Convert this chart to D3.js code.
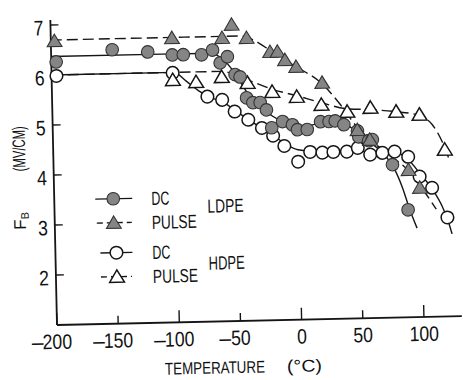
<!DOCTYPE html>
<html>
<head>
<meta charset="utf-8">
<script src="https://cdn.jsdelivr.net/npm/d3@7"></script>
<style>
  html, body { margin: 0; padding: 0; background: #fff; }
  svg { display: block; }
  text { font-family: "Liberation Sans", Arial, sans-serif; fill: #111; }
</style>
</head>
<body>
<svg id="chart" width="463" height="380"></svg>
<script>
// Breakdown strength F_B of LDPE / HDPE under DC and pulse voltage vs temperature

const xTicks = [-200, -150, -100, -50, 0, 50, 100];
const yTicks = [2, 3, 4, 5, 6, 7];

// LDPE, DC (measured points)
const ldpeDcTemp  = [-196, -150, -121, -101, -92, -77, -68, -62, -56, -50, -46, -41, -36, -30, -25, -21, -12, -4, 0, 8, 19, 26, 31, 38, 49, 50, 58, 61, 77, 89];
const ldpeDcField = [6.26, 6.48, 6.42, 6.35, 6.35, 6.34, 6.43, 6.17, 6.29, 5.93, 5.88, 5.46, 5.36, 5.36, 5.21, 4.85, 4.97, 4.9, 4.8, 4.8, 4.95, 4.95, 4.96, 4.88, 4.75, 4.63, 4.55, 4.57, 4.06, 3.15];
// LDPE, DC (drawn trend curve)
const ldpeDcCurveTemp  = [-200, -100, -70, -60, -50, -40, -30, -20, -10, 0, 10, 20, 30, 40, 50, 60, 70, 78, 85, 90, 96];
const ldpeDcCurveField = [6.37, 6.37, 6.36, 6.25, 5.95, 5.55, 5.3, 5.08, 4.95, 4.88, 4.88, 4.93, 4.95, 4.88, 4.7, 4.5, 4.28, 4.0, 3.58, 3.18, 2.78];

// LDPE, pulse
const ldpePulseTemp  = [-197, -101, -60, -52, -40, -21, -15, -9, 0, 21, 49, 59, 90, 99];
const ldpePulseField = [6.68, 6.69, 6.67, 6.93, 6.66, 6.37, 6.37, 6.2, 6.06, 5.73, 4.77, 4.57, 3.95, 3.59];
const ldpePulseCurveTemp  = [-200, -45, -30, -20, -10, 0, 20, 35, 49, 60, 75, 90, 100, 112];
const ldpePulseCurveField = [6.7, 6.7, 6.55, 6.38, 6.22, 6.06, 5.73, 5.3, 4.82, 4.55, 4.25, 3.93, 3.6, 3.15];

// HDPE, DC
const hdpeDcTemp  = [-196, -101, -73, -61, -51, -40, -29, -20, -11, 0, 10, 20, 29, 40, 49, 59, 69, 79, 90, 99, 109, 121];
const hdpeDcField = [5.98, 5.99, 5.5, 5.43, 5.19, 5.02, 4.85, 4.69, 4.48, 4.16, 4.35, 4.33, 4.34, 4.34, 4.41, 4.27, 4.3, 4.32, 4.21, 3.81, 3.58, 2.98];
const hdpeDcCurveTemp  = [-200, -100, -90, -80, -70, -60, -50, -40, -30, -20, -10, 0, 20, 40, 60, 80, 90, 100, 110, 117, 121, 124.5];
const hdpeDcCurveField = [6.0, 6.0, 5.82, 5.62, 5.48, 5.38, 5.2, 5.03, 4.86, 4.7, 4.52, 4.4, 4.35, 4.35, 4.33, 4.3, 4.15, 3.85, 3.52, 3.2, 2.95, 2.65];

// HDPE, pulse
const hdpePulseTemp  = [-101, -82, -61, -40, -20, 0, 20, 41, 60, 81, 100, 120];
const hdpePulseField = [5.85, 5.8, 5.89, 5.76, 5.57, 5.46, 5.29, 5.14, 5.21, 5.12, 5.05, 4.34];
const hdpePulseCurveTemp  = [-200, -60, -50, -40, -20, 0, 20, 40, 60, 80, 100, 110, 118, 124];
const hdpePulseCurveField = [6.0, 6.0, 5.92, 5.82, 5.62, 5.48, 5.33, 5.2, 5.17, 5.12, 5.03, 4.85, 4.5, 4.1];

const zip = (a, b) => a.map((v, i) => [v, b[i]]);

const svg = d3.select("#chart");
// whole figure sits slightly tilted on the page
const g = svg.append("g").attr("transform", "rotate(-1.25, 57, 325)");

const x = d3.scaleLinear().domain([-200, 100]).range([57, 424]);
const y = d3.scaleLinear().domain([1, 7]).range([325, 25]);

const INK = "#151515";
const GRAY = "#858585";

// squeeze a text element horizontally to a narrower lettering style
function condense(sel, k) {
  sel.each(function () {
    const w = this.getComputedTextLength();
    this.setAttribute("textLength", (w * k).toFixed(1));
    this.setAttribute("lengthAdjust", "spacingAndGlyphs");
  });
}

// ---- axes ----
g.append("line")
  .attr("x1", x(-200)).attr("x2", x(131))
  .attr("y1", y(1)).attr("y2", y(1))
  .attr("stroke", INK).attr("stroke-width", 1.8);
g.append("line")
  .attr("x1", x(-200)).attr("x2", x(-200))
  .attr("y1", y(1)).attr("y2", y(7.1))
  .attr("stroke", INK).attr("stroke-width", 1.8);

// x ticks point up into the plot; hundreds are longer
g.selectAll(".xt").data(xTicks).join("line")
  .attr("x1", d => x(d)).attr("x2", d => x(d))
  .attr("y1", y(1)).attr("y2", d => y(1) - (d % 100 === 0 ? 12 : 8))
  .attr("stroke", INK).attr("stroke-width", 1.4);

// y ticks point right into the plot
g.selectAll(".yt").data(yTicks).join("line")
  .attr("x1", x(-200)).attr("x2", x(-200) + 8)
  .attr("y1", d => y(d)).attr("y2", d => y(d))
  .attr("stroke", INK).attr("stroke-width", 1.4);

// x tick labels: digits centred on the tick, minus sign hanging to the left
xTicks.forEach(d => {
  const t = g.append("text")
    .attr("x", x(d)).attr("y", 349)
    .attr("text-anchor", "middle")
    .attr("font-size", 21)
    .text(Math.abs(d));
  condense(t, 0.84);
  if (d < 0) {
    const w = t.node().getComputedTextLength() * 0.84;
    g.append("text")
      .attr("x", x(d) - w / 2 - 1.5).attr("y", 349)
      .attr("text-anchor", "end")
      .attr("font-size", 21)
      .text("\u2013");
  }
});

// y tick labels
yTicks.forEach(d => {
  const t = g.append("text")
    .attr("x", 50).attr("y", y(d) + 10)
    .attr("text-anchor", "end")
    .attr("font-size", 21)
    .text(d);
  condense(t, 0.84);
});

// axis titles
g.append("text").attr("x", 164).attr("y", 377).attr("font-size", 17)
  .attr("textLength", 100).attr("lengthAdjust", "spacingAndGlyphs")
  .text("TEMPERATURE");
g.append("text").attr("x", 286).attr("y", 377).attr("font-size", 17)
  .attr("textLength", 35).attr("lengthAdjust", "spacingAndGlyphs")
  .text("(\u00B0C)");

g.append("text")
  .attr("transform", "translate(29,148) rotate(-90)")
  .attr("text-anchor", "middle").attr("font-size", 18)
  .attr("textLength", 45).attr("lengthAdjust", "spacingAndGlyphs")
  .text("(MV/CM)");

const yl2 = g.append("text")
  .attr("transform", "translate(28,229) rotate(-90)")
  .attr("font-size", 17);
yl2.append("tspan").text("F");
yl2.append("tspan").attr("font-size", 11).attr("dy", 3).text("B");

// ---- series ----
const line = d3.line().x(d => x(d[0])).y(d => y(d[1])).curve(d3.curveMonotoneX);

function curve(temp, field, dashed) {
  g.append("path")
    .datum(zip(temp, field))
    .attr("d", line)
    .attr("fill", "none")
    .attr("stroke", INK)
    .attr("stroke-width", 1.4)
    .attr("stroke-dasharray", dashed ? "11,5" : null);
}

const triPath = "M0,-6.8L7.4,5.6L-7.4,5.6Z";

function circles(temp, field, filled) {
  g.append("g").selectAll("circle").data(zip(temp, field)).join("circle")
    .attr("cx", d => x(d[0])).attr("cy", d => y(d[1]))
    .attr("r", 6.3)
    .attr("fill", filled ? GRAY : "#fff")
    .attr("stroke", filled ? "#333" : INK)
    .attr("stroke-width", filled ? 1.1 : 1.5);
}

function triangles(temp, field, filled) {
  g.append("g").selectAll("path").data(zip(temp, field)).join("path")
    .attr("transform", d => `translate(${x(d[0])},${y(d[1])})`)
    .attr("d", triPath)
    .attr("fill", filled ? GRAY : "#fff")
    .attr("stroke", filled ? "#333" : INK)
    .attr("stroke-width", filled ? 1.1 : 1.5)
    .attr("stroke-linejoin", "miter");
}

curve(hdpePulseCurveTemp, hdpePulseCurveField, true);
curve(ldpePulseCurveTemp, ldpePulseCurveField, true);
curve(hdpeDcCurveTemp, hdpeDcCurveField, false);
curve(ldpeDcCurveTemp, ldpeDcCurveField, false);

circles(hdpeDcTemp, hdpeDcField, false);
triangles(hdpePulseTemp, hdpePulseField, false);
circles(ldpeDcTemp, ldpeDcField, true);
triangles(ldpePulseTemp, ldpePulseField, true);

// ---- legend ----
const legendRows = [
  { y: 200, x1: 98, x2: 135, mx: 116, kind: "circle", filled: true,  dashed: false, label: "DC",    lw: 18 },
  { y: 224, x1: 99, x2: 134, mx: 116, kind: "tri",    filled: true,  dashed: true,  label: "PULSE", lw: 45 },
  { y: 254, x1: 102, x2: 134, mx: 118, kind: "circle", filled: false, dashed: false, label: "DC",    lw: 18 },
  { y: 278, x1: 102, x2: 133, mx: 118, kind: "tri",    filled: false, dashed: true,  label: "PULSE", lw: 45 }
];
legendRows.forEach(r => {
  g.append("line")
    .attr("x1", r.x1).attr("x2", r.x2).attr("y1", r.y).attr("y2", r.y)
    .attr("stroke", INK).attr("stroke-width", 1.4)
    .attr("stroke-dasharray", r.dashed ? "6,4" : null);
  if (r.kind === "circle") {
    g.append("circle").attr("cx", r.mx).attr("cy", r.y).attr("r", 6.3)
      .attr("fill", r.filled ? GRAY : "#fff")
      .attr("stroke", r.filled ? "#333" : INK).attr("stroke-width", r.filled ? 1.1 : 1.5);
  } else {
    g.append("path").attr("transform", `translate(${r.mx},${r.y})`).attr("d", triPath)
      .attr("fill", r.filled ? GRAY : "#fff")
      .attr("stroke", r.filled ? "#333" : INK).attr("stroke-width", r.filled ? 1.1 : 1.5);
  }
  g.append("text").attr("x", 154).attr("y", r.y + 7).attr("font-size", 19)
    .attr("textLength", r.lw).attr("lengthAdjust", "spacingAndGlyphs")
    .text(r.label);
});
g.append("text").attr("x", 210).attr("y", 216).attr("font-size", 19)
  .attr("textLength", 36).attr("lengthAdjust", "spacingAndGlyphs").text("LDPE");
g.append("text").attr("x", 210).attr("y", 273).attr("font-size", 19)
  .attr("textLength", 36).attr("lengthAdjust", "spacingAndGlyphs").text("HDPE");
</script>
</body>
</html>
